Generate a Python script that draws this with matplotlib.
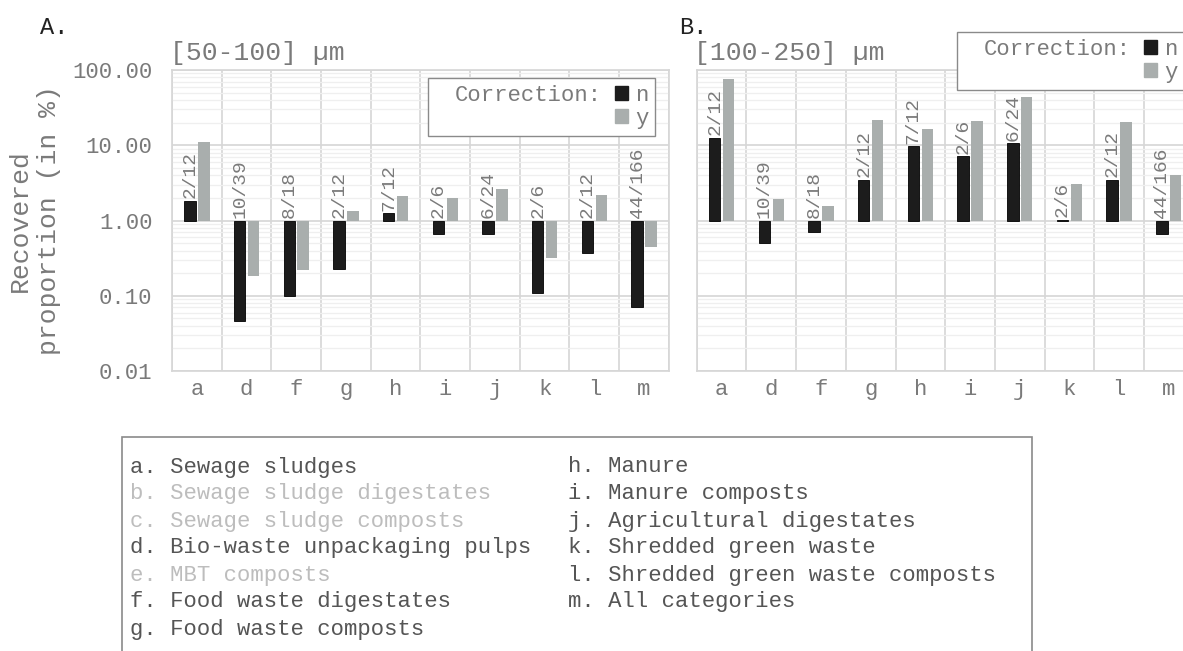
import matplotlib.pyplot as plt
from matplotlib.patches import Patch, Rectangle
from matplotlib.ticker import FixedLocator, NullFormatter
import numpy as np

plt.rcParams['font.family'] = ['Liberation Mono', 'DejaVu Sans Mono']

# categories and data (recovered proportion, %)
cats = ['a', 'd', 'f', 'g', 'h', 'i', 'j', 'k', 'l', 'm']
counts = ['2/12', '10/39', '8/18', '2/12', '7/12', '2/6', '6/24', '2/6', '2/12', '44/166']

a_n = [1.82, 0.046, 0.10, 0.23, 1.25, 0.67, 0.66, 0.108, 0.37, 0.07]
a_y = [10.9, 0.183, 0.22, 1.35, 2.13, 2.0, 2.6, 0.32, 2.18, 0.44]

b_n = [12.6, 0.50, 0.70, 3.5, 9.7, 7.1, 10.7, 1.02, 3.46, 0.66]
b_y = [75.0, 1.93, 1.58, 21.5, 16.7, 21.1, 44.0, 3.08, 20.7, 4.07]

legend_items = [
    ('a. Sewage sludges', True), ('b. Sewage sludge digestates', False),
    ('c. Sewage sludge composts', False), ('d. Bio-waste unpackaging pulps', True),
    ('e. MBT composts', False), ('f. Food waste digestates', True),
    ('g. Food waste composts', True), ('h. Manure', True),
    ('i. Manure composts', True), ('j. Agricultural digestates', True),
    ('k. Shredded green waste', True), ('l. Shredded green waste composts', True),
    ('m. All categories', True),
]

BLACK = '#1c1c1c'
GREY = '#a9aead'
TXT = '#7a7a7a'
GRID = '#d6d6d6'
MINOR = '#efefef'

fig = plt.figure(figsize=(11.83, 6.51), dpi=100)


def panel(ax, vn, vy, title, ylabels):
    x = np.arange(len(cats))
    w = 0.23
    vn = np.array(vn); vy = np.array(vy)
    ax.bar(x - 0.14, vn - 1, w, bottom=1, color=BLACK, edgecolor='black', lw=0.6, zorder=3)
    ax.bar(x + 0.14, vy - 1, w, bottom=1, color=GREY, zorder=3)
    ax.set_yscale('log')
    ax.set_ylim(0.01, 100)
    ax.set_xlim(-0.5, len(cats) - 0.5)
    ax.set_xticks(x)
    ax.set_xticklabels(cats)
    ax.xaxis.set_minor_locator(FixedLocator(np.arange(-0.5, len(cats), 1)))
    ax.yaxis.set_major_locator(FixedLocator([0.01, 0.1, 1, 10, 100]))
    minors = [m * 10.0 ** e for e in range(-2, 2) for m in range(2, 10)]
    ax.yaxis.set_minor_locator(FixedLocator(minors))
    ax.yaxis.set_minor_formatter(NullFormatter())
    ax.grid(which='major', axis='y', color=GRID, lw=1.2, zorder=1)
    ax.grid(which='minor', axis='y', color=MINOR, lw=0.9, zorder=0)
    ax.grid(which='minor', axis='x', color=GRID, lw=1.2, zorder=1)
    ax.tick_params(which='both', length=0, colors=TXT, labelsize=16)
    ax.tick_params(axis='y', pad=14)
    ax.tick_params(axis='x', pad=6)
    if ylabels:
        ax.set_yticklabels(['0.01', '0.10', '1.00', '10.00', '100.00'])
    else:
        ax.set_yticklabels([])
    for s in ax.spines.values():
        s.set_color(GRID)
        s.set_linewidth(1.2)
    ax.set_title(title, loc='left', color=TXT, fontsize=19, pad=7, x=-0.005)
    for i, c in enumerate(counts):
        ax.text(i - 0.14, max(vn[i], 1) * 1.08, c, rotation=90, ha='center', va='bottom',
                color=TXT, fontsize=14, zorder=4)


ax1 = fig.add_axes([0.1454, 0.430, 0.420, 0.4624])
panel(ax1, a_n, a_y, '[50-100] µm', True)
ax1.set_ylabel('Recovered\nproportion (in %)', color=TXT, fontsize=19, labelpad=8,
               linespacing=1.3)

ax2 = fig.add_axes([0.589, 0.430, 0.420, 0.4624])
panel(ax2, b_n, b_y, '[100-250] µm', False)

fig.text(0.034, 0.958, 'A.', fontsize=17, color='#222222', va='center')
fig.text(0.574, 0.958, 'B.', fontsize=17, color='#222222', va='center')

blank = Patch(facecolor='none', edgecolor='none')
hn = Patch(facecolor=BLACK, edgecolor=BLACK)
hy = Patch(facecolor=GREY, edgecolor=GREY)
for ax, anchor in [(ax1, (428 / 1183, 1 - 78 / 651)), (ax2, (957 / 1183, 1 - 32 / 651))]:
    leg = ax.legend([blank, blank, hn, hy], ['Correction:', '', 'n', 'y'], ncol=2,
                    loc='upper left', bbox_to_anchor=anchor, bbox_transform=fig.transFigure,
                    fontsize=16, handlelength=0.6, handleheight=0.6, handletextpad=0.3,
                    columnspacing=0.6, labelspacing=0.1, borderpad=0.3, borderaxespad=0,
                    frameon=True, fancybox=False, framealpha=1)
    leg.get_frame().set_edgecolor('#8a8a8a')
    leg.get_frame().set_linewidth(1.0)
    for t in leg.get_texts():
        t.set_color(TXT)
    leg.set_zorder(10)

# bottom key box
fig.patches.append(Rectangle((122 / 1183, -0.05), 910 / 1183, 1 - 437 / 651 + 0.05,
                             transform=fig.transFigure, facecolor='white',
                             edgecolor='#8a8a8a', lw=1.2))
for k, (label, active) in enumerate(legend_items):
    col = 0 if k < 7 else 1
    row = k if k < 7 else k - 7
    xpix = 130 if col == 0 else 568
    ypix = 467 + 27 * row
    fig.text(xpix / 1183, 1 - ypix / 651, label, fontsize=16, va='center',
             color='#555555' if active else '#bdbdbd')

fig.savefig('out.png', dpi=100)
